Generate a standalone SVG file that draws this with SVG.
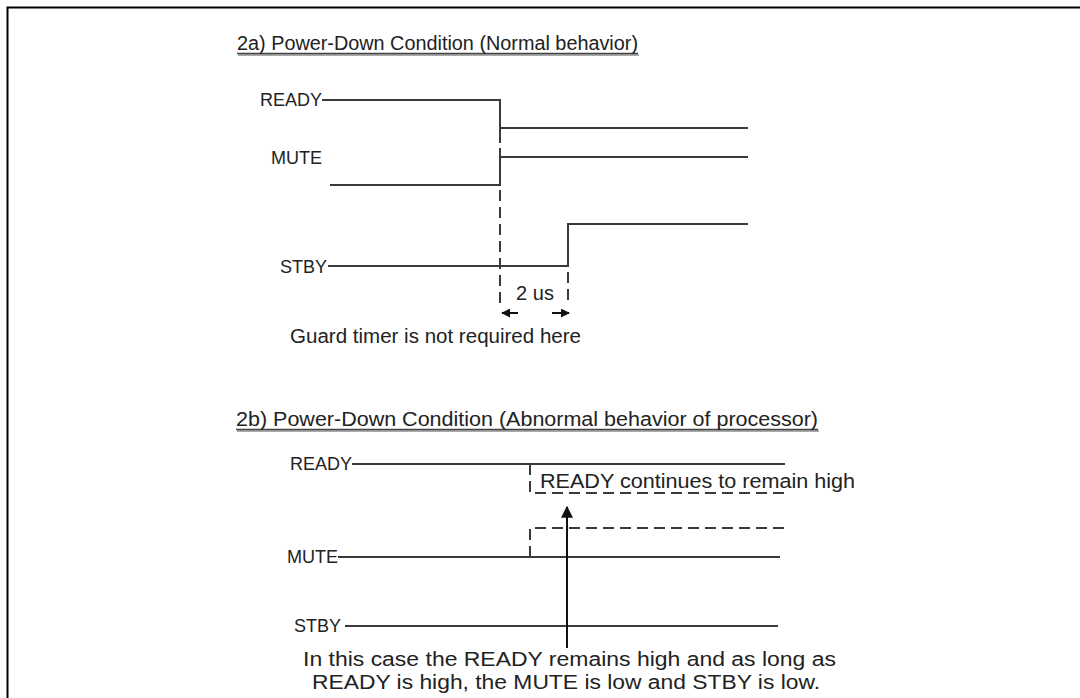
<svg xmlns="http://www.w3.org/2000/svg" width="1080" height="698" viewBox="0 0 1080 698">
<style>
text{font-family:"Liberation Sans",Arial,sans-serif;font-size:20px;fill:#222}
text.lbl{font-size:18px}
.sig{stroke:#3a3a3a;stroke-width:2;fill:none}
.dash{stroke:#3a3a3a;stroke-width:2;fill:none;stroke-dasharray:11,6}
.ul{stroke:#444;stroke-width:1.5}
.uls{stroke:#aaa;stroke-width:2}
</style>
<defs>
<marker id="ah" viewBox="0 0 10 10" refX="9" refY="5" markerWidth="9" markerHeight="9" markerUnits="userSpaceOnUse" orient="auto"><path d="M0,0 L10,5 L0,10 Z" fill="#111"/></marker>
<marker id="ahb" viewBox="0 0 10 10" refX="9" refY="5" markerWidth="12" markerHeight="20" markerUnits="userSpaceOnUse" orient="auto"><path d="M0,0 L10,5 L0,10 Z" fill="#111"/></marker>
</defs>
<rect width="1080" height="698" fill="#fff"/>
<g id="frame"><path d="M7.5,698 V7.5 H1080" fill="none" stroke="#000" stroke-width="2"/></g>

<g id="title-2a">
<line class="uls" x1="238" y1="55" x2="639" y2="55"/>
<line class="ul" x1="237" y1="53.5" x2="638" y2="53.5"/>
<text x="237" y="50" textLength="401" lengthAdjust="spacingAndGlyphs">2a) Power-Down Condition (Normal behavior)</text>
</g>
<g id="label-ready-a"><text class="lbl" x="322" y="106" text-anchor="end">READY</text></g>
<g id="label-mute-a"><text class="lbl" x="322" y="164" text-anchor="end">MUTE</text></g>
<g id="label-stby-a"><text class="lbl" x="327" y="273" text-anchor="end">STBY</text></g>
<g id="label-2us"><text x="535" y="300" text-anchor="middle">2 us</text></g>
<g id="note-a"><text x="290" y="343" textLength="291" lengthAdjust="spacingAndGlyphs">Guard timer is not required here</text></g>

<g id="title-2b">
<line class="uls" x1="237" y1="431" x2="819" y2="431"/>
<line class="ul" x1="236" y1="429.5" x2="818" y2="429.5"/>
<text x="236" y="426" textLength="582" lengthAdjust="spacingAndGlyphs">2b) Power-Down Condition (Abnormal behavior of processor)</text>
</g>
<g id="label-ready-b"><text class="lbl" x="352" y="470" text-anchor="end">READY</text></g>
<g id="note-ready-b"><text x="540" y="488" textLength="315" lengthAdjust="spacingAndGlyphs">READY continues to remain high</text></g>
<g id="label-mute-b"><text class="lbl" x="338" y="563" text-anchor="end">MUTE</text></g>
<g id="label-stby-b"><text class="lbl" x="341" y="632" text-anchor="end">STBY</text></g>
<g id="note-b">
<text x="303" y="666" textLength="533" lengthAdjust="spacingAndGlyphs">In this case the READY remains high and as long as</text>
<text x="312" y="689" textLength="508" lengthAdjust="spacingAndGlyphs">READY is high, the MUTE is low and STBY is low.</text>
</g>

<g id="connectors">
<!-- 2a -->
<path class="sig" d="M322,100 H500 V143"/>
<line class="sig" x1="500" y1="128" x2="748" y2="128"/>
<path class="sig" d="M330,185 H500 V148"/>
<line class="sig" x1="500" y1="157" x2="748" y2="157"/>
<path class="sig" d="M328,266 H568 V224 H748"/>
<line class="dash" x1="500" y1="190" x2="500" y2="305"/>
<line class="dash" x1="568" y1="272" x2="568" y2="305"/>
<line stroke="#111" stroke-width="2" x1="518" y1="313" x2="502" y2="313" marker-end="url(#ah)"/>
<line stroke="#111" stroke-width="2" x1="552" y1="313" x2="569" y2="313" marker-end="url(#ah)"/>
<!-- 2b -->
<line class="sig" x1="352" y1="464" x2="785" y2="464"/>
<path class="dash" d="M530,464 V493 H785" stroke-dasharray="8,8"/>
<path class="dash" d="M530,557 V528 H785" stroke-dasharray="8,8"/>
<line class="sig" x1="338" y1="557" x2="780" y2="557"/>
<line class="sig" x1="345" y1="626" x2="778" y2="626"/>
<line stroke="#111" stroke-width="2" x1="567" y1="648" x2="567" y2="507" marker-end="url(#ahb)"/>
</g>
</svg>
